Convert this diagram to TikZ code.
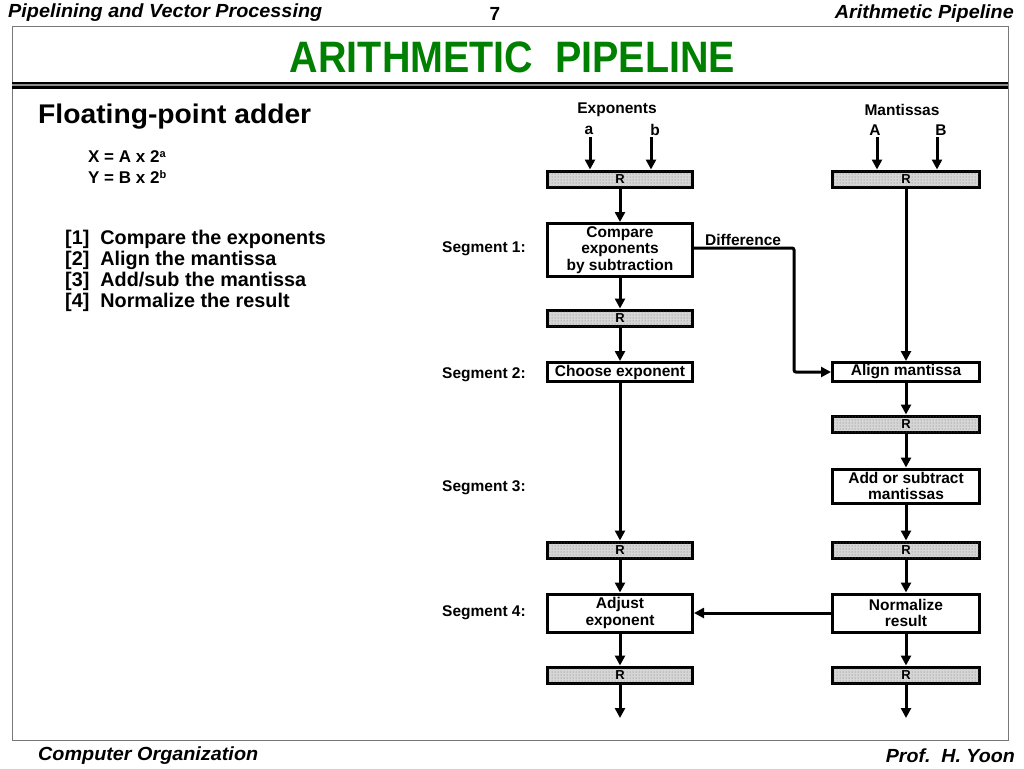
\documentclass[tikz,border=0pt]{standalone}
\usepackage{fontspec}
\setmainfont{Liberation Sans}
\usepackage{graphicx}
\usetikzlibrary{arrows.meta,patterns}
\newcommand\fitw[2]{\resizebox{#1}{\height}{#2}}
\definecolor{titlegreen}{RGB}{0,128,0}
\definecolor{framegray}{RGB}{120,120,120}
\tikzset{
  regbox/.style={draw=black, line width=3pt, fill=black!16, minimum height=16pt, inner sep=0pt,
    font=\fontsize{13}{13}\selectfont\bfseries,
    postaction={pattern=dots, pattern color=black!55}},
  regL/.style={regbox, minimum width=145pt},
  regR/.style={regbox, minimum width=147pt},
  blkbox/.style={draw=black, line width=3pt, fill=white, inner sep=0pt, align=center,
    font=\fontsize{15.5}{16.5}\selectfont\bfseries},
  arr/.style={line width=3pt, -{Triangle[length=10pt,width=10pt]}},
  lbl/.style={inner sep=0pt, font=\fontsize{15.5}{16}\selectfont\bfseries},
  stepline/.style={anchor=base west, inner sep=0pt, font=\fontsize{19.8}{21}\selectfont\bfseries},
}
\begin{document}
\begin{tikzpicture}[x=1pt,y=-1pt]
\useasboundingbox (0,0) rectangle (1024,768);
\fill[white] (0,0) rectangle (1024,768);
% frame
\draw[framegray, line width=1pt] (12,27) rectangle (1008,740);
\draw[black, line width=1.4pt] (12,83) -- (1008,83);
\draw[black!45, line width=2pt] (12,85) -- (1008,85);
\draw[black, line width=2.8pt] (12,87.5) -- (1008,87.5);
% header / footer
\node[anchor=west, inner sep=0pt] (hl) at (8,13) {\fitw{314pt}{\fontsize{19}{19}\selectfont\bfseries\itshape Pipelining and Vector Processing}};
\node[inner sep=0pt] (hn) at (495,14) {\fontsize{19}{19}\selectfont\bfseries 7};
\node[anchor=east, inner sep=0pt] (hr) at (1014,14) {\fitw{179pt}{\fontsize{19}{19}\selectfont\bfseries\itshape Arithmetic Pipeline}};
\node[anchor=west, inner sep=0pt] (fl) at (38,756) {\fitw{220pt}{\fontsize{19}{19}\selectfont\bfseries\itshape Computer Organization}};
\node[anchor=east, inner sep=0pt] (fr) at (1015,756) {\fitw{129pt}{\fontsize{19}{19}\selectfont\bfseries\itshape Prof.\ \ H. Yoon}};
% title
\node[anchor=base, inner sep=0pt, text=titlegreen] (title) at (512.5,72) {\fitw{445pt}{\fontsize{44}{44}\selectfont\bfseries ARITHMETIC\ \ PIPELINE}};
% left text
\node[anchor=base west, inner sep=0pt] (fpa) at (38,123) {\fitw{273pt}{\fontsize{27}{27}\selectfont\bfseries Floating-point adder}};
\node[anchor=base west, inner sep=0pt] (fx) at (88,162) {\fontsize{17}{17}\selectfont\bfseries X = A x 2\raisebox{5pt}{\fontsize{11}{11}\selectfont a}};
\node[anchor=base west, inner sep=0pt] (fy) at (88,183) {\fontsize{17}{17}\selectfont\bfseries Y = B x 2\raisebox{5pt}{\fontsize{11}{11}\selectfont b}};
\node[stepline] (st1) at (65,244) {[1]\ \ Compare the exponents};
\node[stepline] (st2) at (65,265) {[2]\ \ Align the mantissa};
\node[stepline] (st3) at (65,286) {[3]\ \ Add/sub the mantissa};
\node[stepline] (st4) at (65,307) {[4]\ \ Normalize the result};
% column labels
\node[lbl] (expo) at (617,110) {Exponents};
\node[lbl] (mant) at (902,110) {Mantissas};
\node[lbl] (la) at (589,130) {a};
\node[lbl] (lb) at (655,130) {b};
\node[lbl] (lA) at (875,130) {A};
\node[lbl] (lB) at (941,130) {B};
\coordinate (ina) at (590,137);
\coordinate (inb) at (651,137);
\coordinate (inA) at (877,137);
\coordinate (inB) at (937,137);
% registers
\node[regL] (rL1) at (620,179) {R};
\node[regR] (rR1) at (906,179) {R};
\node[regL] (rL2) at (620,318) {R};
\node[regR] (rR3) at (906,424) {R};
\node[regL] (rL4) at (620,550) {R};
\node[regR] (rR4) at (906,550) {R};
\node[regL] (rL5) at (620,675) {R};
\node[regR] (rR5) at (906,675) {R};
% blocks
\node[blkbox, minimum width=145pt, minimum height=53pt] (cmp) at (620,250) {Compare\\exponents\\by subtraction};
\node[blkbox, minimum width=145pt, minimum height=19pt] (choose) at (620,372) {Choose exponent};
\node[blkbox, minimum width=147pt, minimum height=19pt] (align) at (906,372) {Align mantissa};
\node[blkbox, minimum width=147pt, minimum height=34pt] (addsub) at (906,486) {Add or subtract\\ mantissas};
\node[blkbox, minimum width=145pt, minimum height=38pt] (adj) at (620,613) {Adjust\\exponent};
\node[blkbox, minimum width=147pt, minimum height=38pt] (norm) at (906,613) {Normalize\\ result};
% segment labels
\node[lbl, anchor=west] (s1) at (442,249) {Segment 1:};
\node[lbl, anchor=west] (s2) at (442,375) {Segment 2:};
\node[lbl, anchor=west] (s3) at (442,488) {Segment 3:};
\node[lbl, anchor=west] (s4) at (442,613) {Segment 4:};
% input arrows
\draw[arr] (ina) -- (ina |- rL1.north);
\draw[arr] (inb) -- (inb |- rL1.north);
\draw[arr] (inA) -- (inA |- rR1.north);
\draw[arr] (inB) -- (inB |- rR1.north);
% left column
\draw[arr] (rL1) -- (cmp);
\draw[arr] (cmp) -- (rL2);
\draw[arr] (rL2) -- (choose);
\draw[arr] (choose) -- (rL4);
\draw[arr] (rL4) -- (adj);
\draw[arr] (adj) -- (rL5);
\coordinate (outL) at (620,718);
\draw[arr] (rL5) -- (outL);
% right column
\draw[arr] (rR1) -- (align);
\draw[arr] (align) -- (rR3);
\draw[arr] (rR3) -- (addsub);
\draw[arr] (addsub) -- (rR4);
\draw[arr] (rR4) -- (norm);
\draw[arr] (norm) -- (rR5);
\coordinate (outR) at (906,718);
\draw[arr] (rR5) -- (outR);
% difference
\coordinate (dcorner) at (794,248);
\draw[arr, rounded corners=2pt] (cmp.east |- dcorner) -- (dcorner) |- (align.west);
\node[lbl, anchor=base west] (diff) at (705,245) {Difference};
% normalize to adjust
\draw[arr] (norm.west) -- (adj.east);
\end{tikzpicture}
\end{document}
